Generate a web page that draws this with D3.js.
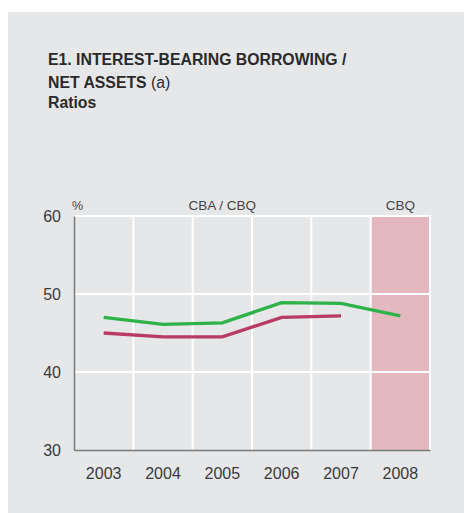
<!DOCTYPE html>
<html><head><meta charset="utf-8">
<script src="https://cdn.jsdelivr.net/npm/d3@7"></script>
<style>html,body{margin:0;padding:0;background:#fff;}svg{display:block;font-family:"Liberation Sans",Arial,sans-serif;}</style>
</head><body>
<svg id="chart" width="464" height="513"></svg>
<script>
const years = ["2003","2004","2005","2006","2007","2008"];
const greenSeries = [47.0, 46.1, 46.3, 48.9, 48.8, 47.2];
const redSeries = [45.0, 44.5, 44.5, 47.0, 47.2];
const yTicks = [30, 40, 50, 60];
const shadedYears = ["2008"];
const titleLines = ["E1. INTEREST-BEARING BORROWING /", "NET ASSETS", "Ratios"];

const svg = d3.select("#chart");
svg.append("rect").attr("x", 8).attr("y", 12).attr("width", 456).attr("height", 501).attr("fill", "#e6e7e9");

const x = d3.scaleBand().domain(years).range([74, 430]);
const y = d3.scaleLinear().domain([30, 60]).range([450, 216]);

// shaded band
svg.selectAll("rect.shade").data(shadedYears).enter().append("rect")
  .attr("x", d => x(d)).attr("y", y(60)).attr("width", x.bandwidth()).attr("height", y(30) - y(60))
  .attr("fill", "#e3b9bf");

// gridlines
svg.append("g").selectAll("line").data(yTicks.filter(t => t > 30)).enter().append("line")
  .attr("x1", 74).attr("x2", 431).attr("y1", d => y(d)).attr("y2", d => y(d))
  .attr("stroke", "#fff").attr("stroke-width", 2);
svg.append("g").selectAll("line").data(years.slice(1).concat(["end"])).enter().append("line")
  .attr("x1", d => d === "end" ? 430 : x(d)).attr("x2", d => d === "end" ? 430 : x(d))
  .attr("y1", y(60)).attr("y2", y(30))
  .attr("stroke", "#fff").attr("stroke-width", 2);

// axes
const yAxis = d3.axisLeft(y).tickValues(yTicks).tickSize(0).tickPadding(13);
const gy = svg.append("g").attr("transform", "translate(74,0)").call(yAxis);
gy.select(".domain").attr("stroke", "#7a7a7a").attr("stroke-width", 1.5);
gy.selectAll("text").attr("font-size", 16).attr("fill", "#3a3a3a").attr("font-family", "Liberation Sans, Arial, sans-serif");

const xAxis = d3.axisBottom(x).tickSize(0).tickPadding(18);
const gx = svg.append("g").attr("transform", "translate(0,450)").call(xAxis);
gx.select(".domain").attr("stroke", "#7a7a7a").attr("stroke-width", 1.5);
gx.selectAll("text").attr("font-size", 16).attr("fill", "#3a3a3a").attr("font-family", "Liberation Sans, Arial, sans-serif");

// lines
const line = d3.line().x((d, i) => x(years[i]) + x.bandwidth() / 2).y(d => y(d));
svg.append("path").datum(redSeries).attr("d", line).attr("fill", "none")
  .attr("stroke", "#b83b63").attr("stroke-width", 3.4);
svg.append("path").datum(greenSeries).attr("d", line).attr("fill", "none")
  .attr("stroke", "#2eb34b").attr("stroke-width", 3.4);

// labels
svg.append("text").attr("x", 72).attr("y", 210).attr("font-size", 12.5).attr("fill", "#444").text("%");
svg.append("text").attr("x", (x("2003") + x("2008")) / 2).attr("y", 210).attr("text-anchor", "middle")
  .attr("font-size", 13.5).attr("fill", "#444").text("CBA / CBQ");
svg.append("text").attr("x", x("2008") + x.bandwidth() / 2).attr("y", 210).attr("text-anchor", "middle")
  .attr("font-size", 13.5).attr("fill", "#444").text("CBQ");

// title
const t = svg.append("text").attr("font-size", 15.8).attr("font-weight", "bold").attr("fill", "#2a2a2a");
t.append("tspan").attr("x", 48).attr("y", 65).text(titleLines[0]);
t.append("tspan").attr("x", 48).attr("y", 88).text(titleLines[1]);
t.append("tspan").attr("font-weight", "normal").text(" (a)");
t.append("tspan").attr("x", 48).attr("y", 108).text(titleLines[2]);
</script>
</body></html>
